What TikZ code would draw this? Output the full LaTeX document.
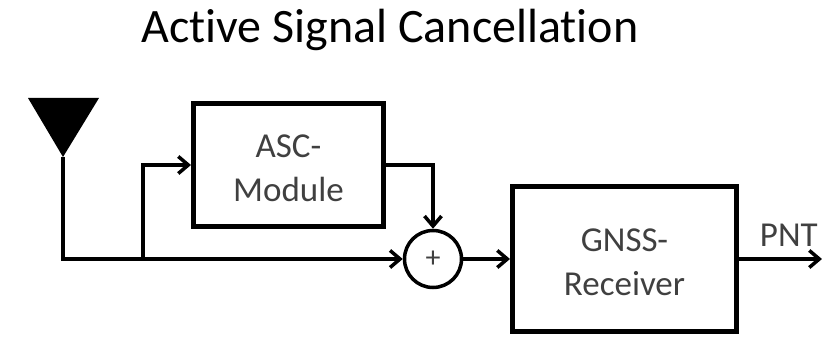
\documentclass[tikz,border=0pt]{standalone}
\usepackage{fontspec}
\setmainfont[Ligatures=NoCommon]{Carlito}
\usetikzlibrary{arrows.meta}
\newcommand{\topgap}{\rule{0pt}{30pt}}

\begin{document}
\begin{tikzpicture}[x=1pt,y=1pt,->,>={Straight Barb[length=10pt,width=17pt,line width=3.5pt]},line width=3.5pt,
  block/.style={rectangle,draw,line width=5pt,text=black!75,font=\fontsize{35}{44}\selectfont,align=center,inner sep=0pt},
  sum node/.style={circle,draw,inner sep=0pt,minimum size=57pt,text=black!75,font=\fontsize{30}{30}\selectfont}]

  \useasboundingbox (0,0) rectangle (822,337);

  \node[font=\fontsize{48}{56}\selectfont] (title) at (390,307) {Active Signal Cancellation};

  \node[sum node] (sum) at (433,78) {+};
  \node[block,minimum width=224pt,minimum height=145pt] (gnss) [right of=sum,node distance=191.5pt] {\topgap GNSS-\\Receiver};
  \node[block,minimum width=190pt,minimum height=123pt] (asc) at (288.5,172) {\topgap ASC-\\Module};

  \coordinate (ant) at (63,180);
  \coordinate (tap) at (143,78);
  \coordinate (out) at (822,78);

  \fill[-] (28,239) -- (99,239) -- (ant) -- cycle;

  \draw (ant) |- (sum);
  \draw (tap) |- (asc);
  \draw (asc) -| (sum);

  \path (sum) edge (gnss)
        (gnss) edge node [above,pos=.6,inner sep=11pt,text=black!75,font=\fontsize{35}{35}\selectfont] (pnt) {PNT} (out);
\end{tikzpicture}
\end{document}
